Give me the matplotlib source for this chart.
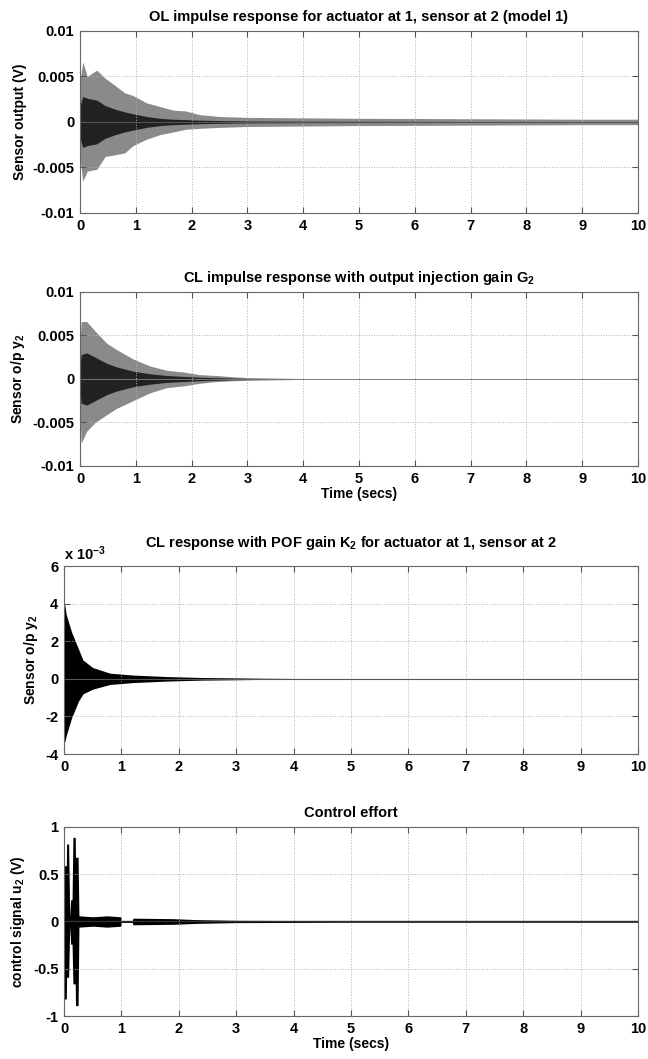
import numpy as np
import matplotlib.pyplot as plt

plt.rcParams['font.family'] = ['Liberation Sans', 'DejaVu Sans']
plt.rcParams['font.weight'] = 'bold'
plt.rcParams['mathtext.fontset'] = 'custom'
plt.rcParams['mathtext.rm'] = 'Liberation Sans:bold'
plt.rcParams['mathtext.bf'] = 'Liberation Sans:bold'
plt.rcParams['mathtext.default'] = 'bf'

# %% envelopes (outer = spike tips, core = dense dark band)
t_ol = [0, 0.05, 0.13, 0.3, 0.45, 0.63, 0.8, 0.95, 1.19, 1.43, 1.67, 1.9, 2.14, 2.5, 3, 4, 5, 6, 7, 8, 9, 10]
ol_up = [0.0045, 0.0066, 0.005, 0.0057, 0.0048, 0.004, 0.0032, 0.0029, 0.0021, 0.0017, 0.0013, 0.0012,
         0.0008, 0.0006, 0.0005, 0.00045, 0.0004, 0.00038, 0.00035, 0.00033, 0.0003, 0.0003]
ol_lo = [-0.004, -0.0065, -0.0054, -0.0052, -0.0038, -0.0036, -0.0034, -0.0026, -0.0019, -0.0014, -0.0011,
         -0.0008, -0.0007, -0.0006, -0.0005, -0.00045, -0.0004, -0.00038, -0.00035, -0.00033, -0.0003, -0.0003]
ol_core = [0.0018, 0.0028, 0.0026, 0.0024, 0.0018, 0.0014, 0.0011, 0.0009, 0.0006, 0.0004, 0.0003, 0.00025,
           0.0002, 0.00015, 0.0001, 0.00008, 0.00007, 0.00006, 0.00005, 0.00005, 0.00004, 0.00004]

t_cl = [0, 0.02, 0.12, 0.27, 0.48, 0.65, 0.95, 1.25, 1.55, 1.85, 2.14, 2.44, 2.74, 3.04, 3.5, 4, 5, 10]
cl_up = [0.004, 0.0066, 0.0066, 0.0055, 0.0041, 0.0034, 0.0023, 0.0015, 0.001, 0.0008, 0.0005, 0.0004,
         0.00025, 0.00015, 0.0001, 0.00005, 0.00002, 0.00001]
cl_lo = [-0.004, -0.0074, -0.006, -0.005, -0.0041, -0.0034, -0.0025, -0.0016, -0.001, -0.0008, -0.0005,
         -0.0003, -0.0002, -0.00015, -0.0001, -0.00005, -0.00002, -0.00001]
cl_core = [0.0014, 0.0028, 0.003, 0.0025, 0.0018, 0.0014, 0.0009, 0.0006, 0.0004, 0.0003, 0.0002, 0.00015,
           0.0001, 0.00006, 0.00004, 0.00002, 0.00001, 0.000005]

# POF response, in units of 1e-3
t_pof = [0, 0.01, 0.04, 0.13, 0.25, 0.33, 0.5, 0.8, 1.2, 1.8, 2.4, 3, 3.5, 4, 5, 10]
pof_up = [2.5, 4.0, 3.4, 2.5, 1.6, 1.0, 0.6, 0.3, 0.2, 0.12, 0.07, 0.05, 0.03, 0.02, 0.005, 0.003]
pof_lo = [-2.5, -3.4, -3.0, -2.1, -1.2, -0.8, -0.55, -0.3, -0.2, -0.12, -0.07, -0.05, -0.03, -0.02, -0.005, -0.003]

# control effort: bursts then small chatter
t_u = [0, 0.005, 0.04, 0.045, 0.08, 0.1, 0.115, 0.14, 0.155, 0.195, 0.2, 0.245, 0.26, 0.5, 0.75, 0.99,
       1.0, 1.19, 1.2, 1.9, 2.3, 3.0, 5.0, 10.0]
u_up = [0.2, 0.59, 0.59, 0.82, 0.82, 0.05, 0.23, 0.23, 0.89, 0.89, 0.68, 0.68, 0.06, 0.05, 0.06, 0.05,
        0.01, 0.01, 0.035, 0.03, 0.02, 0.012, 0.008, 0.008]
u_lo = [-0.2, -0.82, -0.82, -0.59, -0.59, -0.05, -0.24, -0.24, -0.66, -0.66, -0.89, -0.89, -0.06, -0.05,
        -0.06, -0.05, -0.01, -0.01, -0.035, -0.03, -0.02, -0.012, -0.008, -0.008]

titles = ['OL impulse response for actuator at 1, sensor at 2 (model 1)',
          r'CL impulse response with output injection gain G$_2$',
          r'CL response with POF gain K$_2$ for actuator at 1, sensor at 2',
          'Control effort']
ylabels = ['Sensor output (V)', r'Sensor o/p y$_2$', r'Sensor o/p y$_2$', r'control signal u$_2$ (V)']

# %%
fig = plt.figure(figsize=(6.48, 10.59), dpi=100)
ax1 = fig.add_axes([0.1235, 0.7989, 0.861, 0.1719])
ax2 = fig.add_axes([0.1235, 0.5600, 0.861, 0.1643])
ax3 = fig.add_axes([0.0988, 0.2880, 0.8858, 0.1775])
ax4 = fig.add_axes([0.0988, 0.0406, 0.8858, 0.1785])

ax1.fill_between(t_ol, ol_lo, ol_up, color='#8a8a8a', lw=0)
ax1.fill_between(t_ol, [-c for c in ol_core], ol_core, color='#222222', lw=0)
ax1.plot([0, 10], [0, 0], color='#555555', lw=0.6)
ax2.fill_between(t_cl, cl_lo, cl_up, color='#8a8a8a', lw=0)
ax2.fill_between(t_cl, [-c for c in cl_core], cl_core, color='#222222', lw=0)
ax2.plot([0, 10], [0, 0], color='#777777', lw=0.6)
ax3.fill_between(t_pof, pof_lo, pof_up, color='black', lw=0)
ax3.plot([0, 10], [0, 0], color='#555555', lw=0.8)
ax4.fill_between(t_u, u_lo, u_up, color='black', lw=0)
ax4.plot([0, 10], [0, 0], color='#333333', lw=1.0)

yt12 = [-0.01, -0.005, 0, 0.005, 0.01]
yl12 = ['-0.01', '-0.005', '0', '0.005', '0.01']
for ax, yt, yl in [(ax1, yt12, yl12), (ax2, yt12, yl12),
                   (ax3, [-4, -2, 0, 2, 4, 6], ['-4', '-2', '0', '2', '4', '6']),
                   (ax4, [-1, -0.5, 0, 0.5, 1], ['-1', '-0.5', '0', '0.5', '1'])]:
    ax.set_xlim(0, 10)
    ax.set_ylim(yt[0], yt[-1])
    ax.set_yticks(yt)
    ax.set_yticklabels(yl)
    ax.set_xticks(range(11))
    ax.grid(True, linestyle=':', color='#b0b0b0', linewidth=0.7)
    ax.tick_params(direction='in', top=True, right=True, length=4, labelsize=10.5, pad=4, color='#555555')
    for s in ax.spines.values():
        s.set_color('#666666')
        s.set_linewidth(0.8)

for ax, ttl, yl in zip([ax1, ax2, ax3, ax4], titles, ylabels):
    ax.set_title(ttl, fontsize=10.5, fontweight='bold', pad=14 if ax is ax3 else 7)
    ax.set_ylabel(yl, fontsize=10, fontweight='bold', labelpad=4)

ax2.set_xlabel('Time (secs)', fontsize=10, fontweight='bold', labelpad=1)
ax4.set_xlabel('Time (secs)', fontsize=10, fontweight='bold', labelpad=1)
ax3.text(0.0, 1.015, r'x 10$^{-3}$', transform=ax3.transAxes, fontsize=10.5, fontweight='bold',
         ha='left', va='bottom')

plt.savefig('out.png', dpi=100)
